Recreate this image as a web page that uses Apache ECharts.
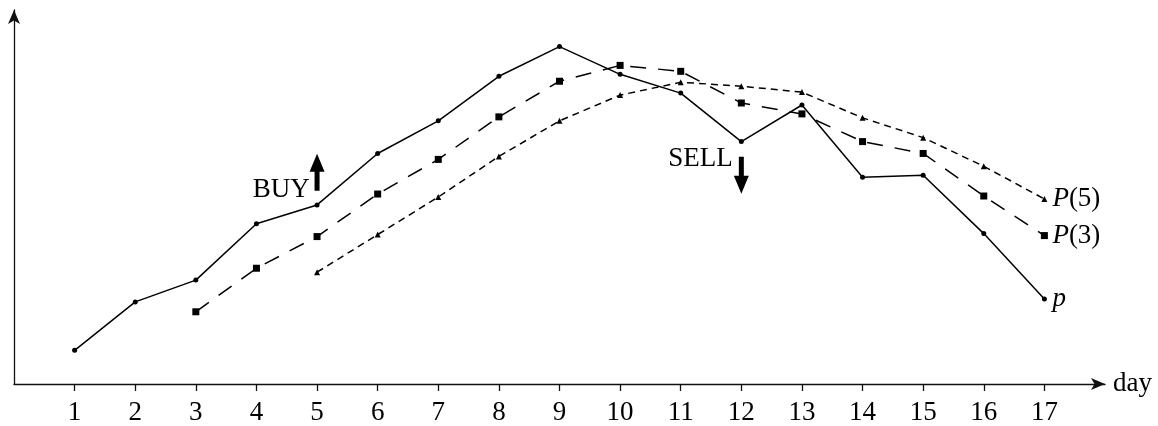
<!DOCTYPE html>
<html>
<head>
<meta charset="utf-8">
<script src="https://cdn.jsdelivr.net/npm/echarts@6/dist/echarts.min.js"></script>
<style>
html,body{margin:0;padding:0;background:#fff;}
#chart{width:1158px;height:426px;}
</style>
</head>
<body>
<div id="chart"></div>
<script>
// ---- data ----
const days = [1,2,3,4,5,6,7,8,9,10,11,12,13,14,15,16,17];
const tickLabels = ['1','2','3','4','5','6','7','8','9','10','11','12','13','14','15','16','17'];
const priceP = [34,83,105,162,181,233,266,311,341,313,294,245,282,209,211,152,86];
const daysP3 = [3,4,5,6,7,8,9,10,11,12,13,14,15,16,17];
const priceP3 = [73,117,149,192,227,270,306,322,316,284,273,245,233,190,150];
const daysP5 = [5,6,7,8,9,10,11,12,13,14,15,16,17];
const priceP5 = [113,151,189,230,266,292,305,301,295,269,249,220,187];
const seriesNames = ['p','P(3)','P(5)'];
const axisName = 'day';
// annotations: [day, level]
const buyArrow = [5, 214];
const sellArrow = [12, 211];
const buyText = ['BUY', 4.88, 196];
const sellText = ['SELL', 11.86, 228];

const FONT = '"Liberation Serif", "DejaVu Serif", serif';
const FS = 27;
const pairs = (xs, ys) => xs.map((x, i) => [x, ys[i]]);
const arrowPath = 'path://M5,18 L0,18 L7.5,0 L15,18 L10,18 L10,37 L5,37 Z';

const chart = echarts.init(document.getElementById('chart'));
const labelRich = {
  i: {fontFamily: FONT, fontStyle: 'italic', fontSize: FS, color: '#000'},
  n: {fontFamily: FONT, fontSize: FS, color: '#000'}
};
chart.setOption({
  animation: false,
  backgroundColor: '#fff',
  grid: {left: 14, right: 53, top: 10, bottom: 38, containLabel: false},
  xAxis: {
    type: 'value', min: 0, max: 18,
    name: axisName, nameLocation: 'end', nameGap: 8,
    nameTextStyle: {fontFamily: FONT, fontSize: FS, color: '#000', verticalAlign: 'middle',
      padding: [6, 0, 0, 0]},
    splitLine: {show: false},
    axisLine: {show: true, onZero: false, symbol: ['none','arrow'], symbolSize: [9, 14],
      lineStyle: {color: '#111', width: 1.3}},
    axisTick: {show: true, customValues: days, length: 7, inside: false,
      lineStyle: {color: '#111', width: 1.3}},
    axisLabel: {show: true, customValues: days, margin: 15,
      formatter: v => tickLabels[days.indexOf(v)] || '',
      fontFamily: FONT, fontSize: FS, color: '#000'}
  },
  yAxis: {
    type: 'value', min: 0, max: 378,
    splitLine: {show: false},
    axisLine: {show: true, onZero: false, symbol: ['none','arrow'], symbolSize: [9, 14],
      lineStyle: {color: '#111', width: 1.3}},
    axisTick: {show: false},
    axisLabel: {show: false}
  },
  series: [
    {
      name: seriesNames[0], type: 'line', data: pairs(days, priceP),
      symbol: 'circle', symbolSize: 5, showAllSymbol: true,
      lineStyle: {color: '#000', width: 1.5}, itemStyle: {color: '#000'},
      endLabel: {show: true, formatter: '{i|p}', distance: 8, rich: labelRich}
    },
    {
      name: seriesNames[1], type: 'line', data: pairs(daysP3, priceP3),
      symbol: 'rect', symbolSize: 7, showAllSymbol: true,
      lineStyle: {color: '#000', width: 1.5, type: [16, 12]}, itemStyle: {color: '#000'},
      endLabel: {show: true, formatter: '{i|P}{n|(3)}', distance: 8, rich: labelRich}
    },
    {
      name: seriesNames[2], type: 'line', data: pairs(daysP5, priceP5),
      symbol: 'triangle', symbolSize: 6, showAllSymbol: true,
      lineStyle: {color: '#000', width: 1.5, type: [7, 5]}, itemStyle: {color: '#000'},
      endLabel: {show: true, formatter: '{i|P}{n|(5)}', distance: 8, rich: labelRich}
    },
    {
      name: 'arrows', type: 'scatter', silent: true,
      symbol: arrowPath, symbolSize: [15, 37], symbolKeepAspect: false,
      itemStyle: {color: '#000', opacity: 1},
      data: [
        {value: buyArrow, symbolRotate: 0},
        {value: sellArrow, symbolRotate: 180}
      ]
    },
    {
      name: 'texts', type: 'scatter', silent: true, symbolSize: 0,
      itemStyle: {opacity: 1},
      label: {show: true, position: 'inside', align: 'right', verticalAlign: 'middle',
        fontFamily: FONT, fontSize: FS, color: '#000', opacity: 1,
        formatter: p => p.data.name},
      data: [
        {name: buyText[0], value: [buyText[1], buyText[2]]},
        {name: sellText[0], value: [sellText[1], sellText[2]]}
      ]
    }
  ]
});
</script>
</body>
</html>
